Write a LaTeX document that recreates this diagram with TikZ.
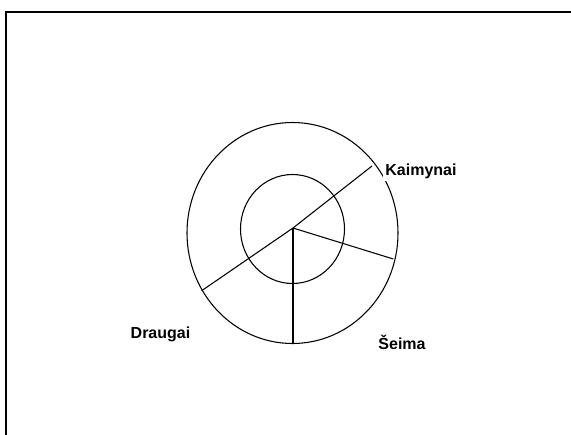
\documentclass[tikz,border=0pt]{standalone}
\usepackage{fontspec}
\setmainfont{Liberation Sans}
\begin{document}
\begin{tikzpicture}[x=0.75pt,y=-0.75pt,
  ring/.style={draw=black,line width=0.8pt},
  spoke/.style={draw=black,line width=0.8pt},
  frame/.style={draw=black,line width=1.5pt},
  lbl/.style={font=\bfseries\fontsize{12}{14}\selectfont,fill=white,inner sep=2pt}]
\useasboundingbox (0,0) rectangle (571,435);
\draw[frame] (571,12) -- (5.5,12) -- (5.5,436);
\coordinate (c) at (293,228);
\draw[ring] (292.5,233) ellipse [x radius=105.5, y radius=110.5];
\draw[ring] (292.5,229) ellipse [x radius=52, y radius=54.5];
\coordinate (ur) at (372,166);
\coordinate (ll) at (201.7,290.7);
\coordinate (rr) at (393.3,259);
\coordinate (bb) at (293,343.3);
\draw[spoke] (ll) -- (c) -- (ur);
\draw[spoke] (c) -- (rr);
\draw[spoke] (c) -- (bb);
\node[lbl] (kaimynai) at (421,171) {Kaimynai};
\node[lbl] (draugai) at (160.5,334.5) {Draugai};
\node[lbl] (seima) at (402,342) {Šeima};
\end{tikzpicture}
\end{document}
